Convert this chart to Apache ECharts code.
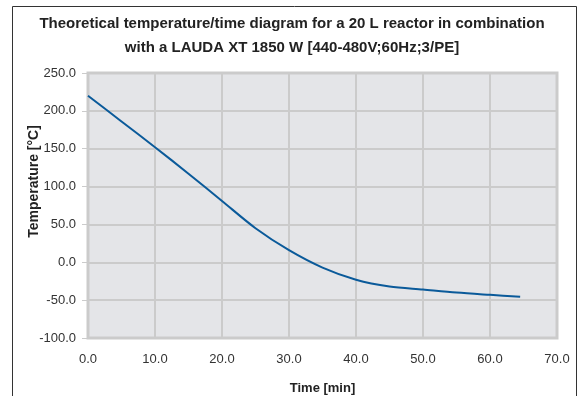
<!DOCTYPE html>
<html>
<head>
<meta charset="utf-8">
<script src="https://cdn.jsdelivr.net/npm/echarts@6/dist/echarts.min.js"></script>
<style>
  html, body { margin: 0; padding: 0; background: #fff; }
  #chart { width: 584px; height: 396px; }
</style>
</head>
<body>
<div id="chart"></div>
<script>
// values
var timeMin = [0, 5, 10, 15, 20, 25, 30, 35, 40, 45, 50, 55, 60, 64.5]
var tempC = [220, 186, 152, 117, 81, 45, 16, -7, -23, -32, -36, -40, -43, -45.5]

var titleLines = [
  'Theoretical temperature/time diagram for a 20 L reactor in combination',
  'with a LAUDA XT 1850 W [440-480V;60Hz;3/PE]'
]

var chart = echarts.init(document.getElementById('chart'))

var seriesData = timeMin.map(function (t, i) {
  return [t, tempC[i]]
})

function fmt1(v) {
  return v.toFixed(1)
}

chart.setOption({
  backgroundColor: '#fff',
  animation: false,
  textStyle: { fontFamily: 'Liberation Sans, Arial, sans-serif' },
  graphic: [
    {
      type: 'rect',
      shape: { x: 12.5, y: 6.5, width: 564, height: 400 },
      style: { fill: 'none', stroke: '#333', lineWidth: 1 },
      silent: true
    }
  ],
  title: {
    text: titleLines.join('\n'),
    left: 'center',
    top: 7,
    textStyle: {
      fontSize: 15,
      fontWeight: 'bold',
      color: '#222',
      lineHeight: 24
    }
  },
  grid: {
    left: 88,
    top: 73,
    right: 27,
    bottom: 58,
    outerBoundsMode: 'none',
    containLabel: false,
    show: true,
    backgroundColor: '#e4e5e8',
    borderColor: '#cbcbcb',
    borderWidth: 3
  },
  xAxis: {
    type: 'value',
    min: 0,
    max: 70,
    interval: 10,
    name: 'Time [min]',
    nameLocation: 'middle',
    nameGap: 44,
    nameMoveOverlap: false,
    nameTextStyle: { fontSize: 13, fontWeight: 'bold', color: '#222' },
    axisLine: { show: false },
    axisTick: { show: true, length: 6, lineStyle: { color: '#cbcbcb', width: 1 } },
    axisLabel: { formatter: fmt1, color: '#333', fontSize: 13, margin: 15 },
    splitLine: { lineStyle: { color: '#cbcbcb', width: 2 } }
  },
  yAxis: {
    type: 'value',
    min: -100,
    max: 250,
    interval: 50,
    name: 'Temperature [°C]',
    nameLocation: 'middle',
    nameGap: 47,
    nameMoveOverlap: false,
    nameTextStyle: {
      fontSize: 14,
      fontWeight: 'bold',
      color: '#222',
      padding: [0, 0, 0, 48]
    },
    axisLine: { show: false },
    axisTick: { show: true, length: 6, lineStyle: { color: '#cbcbcb', width: 1 } },
    axisLabel: { formatter: fmt1, color: '#333', fontSize: 13, margin: 12 },
    splitLine: { lineStyle: { color: '#cbcbcb', width: 2 } }
  },
  series: [
    {
      type: 'line',
      data: seriesData,
      smooth: 0.3,
      showSymbol: false,
      lineStyle: { color: '#0a5a9a', width: 2 }
    }
  ]
})
</script>
</body>
</html>
